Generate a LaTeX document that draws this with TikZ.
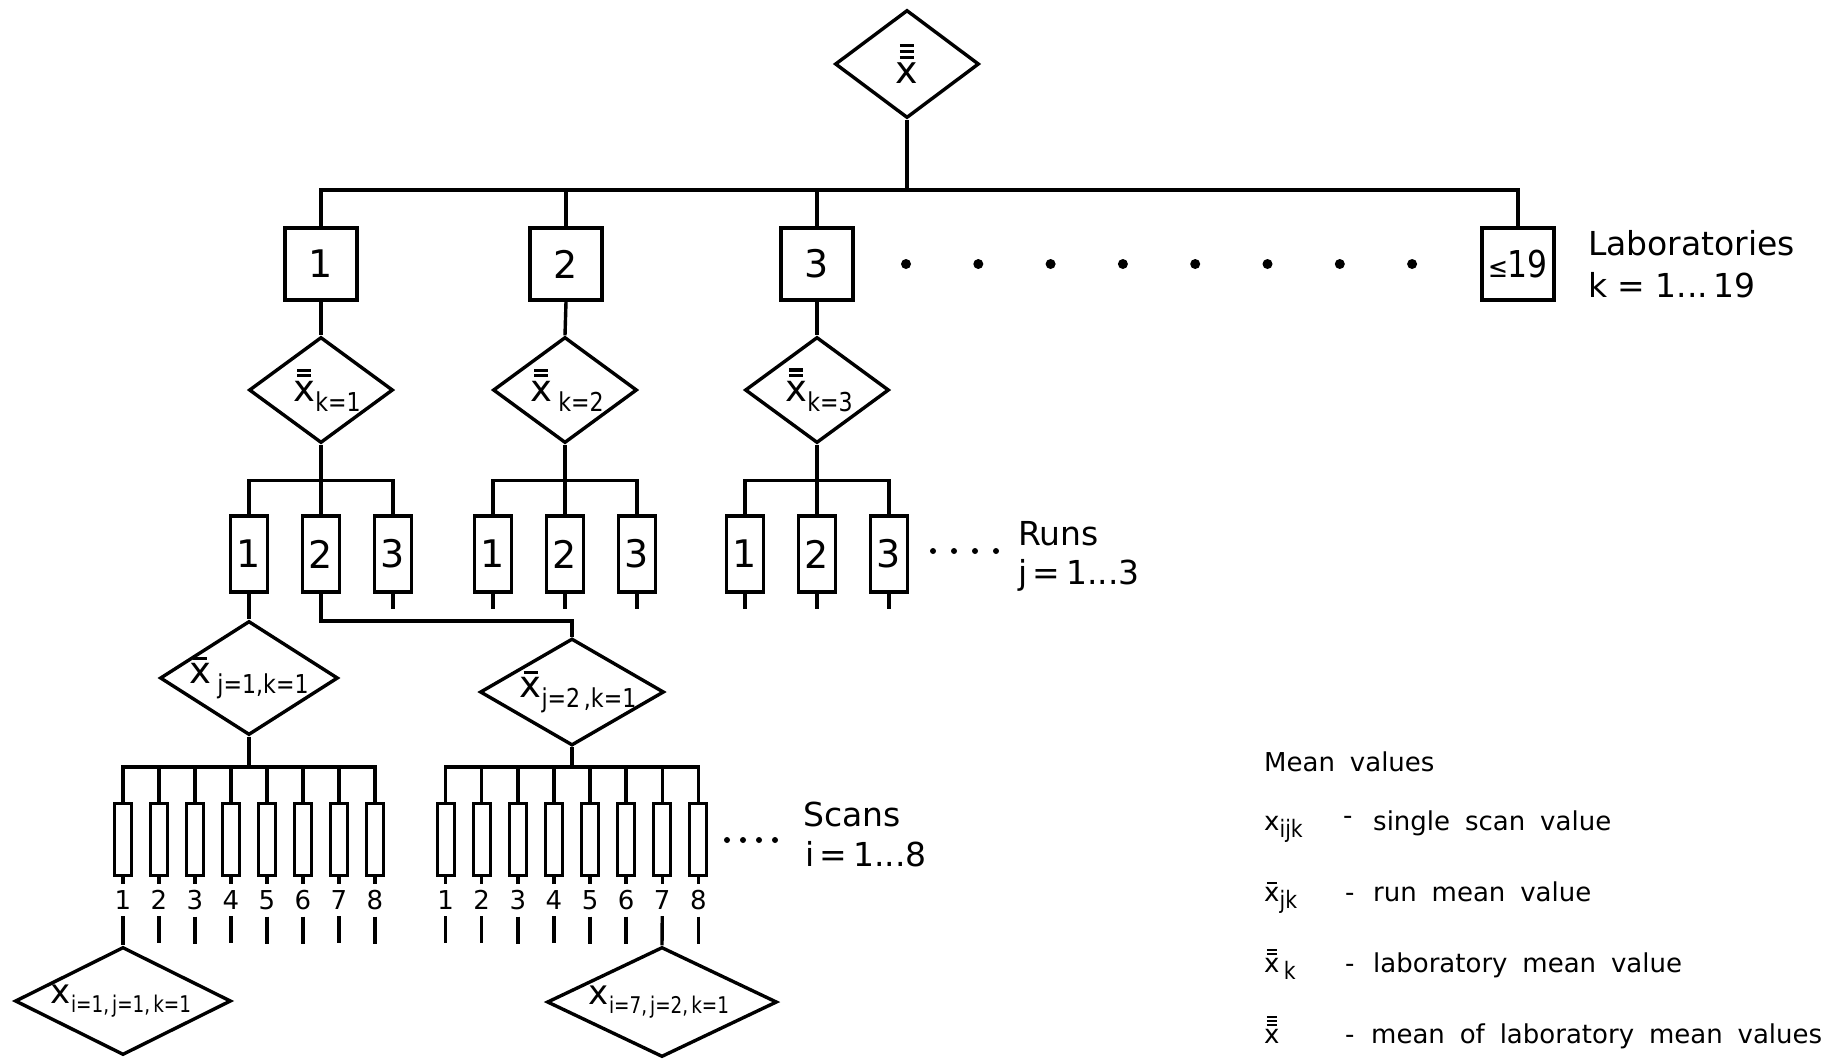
\documentclass[tikz,border=0pt]{standalone}
\usepackage{fontspec}
\setmainfont{DejaVu Sans}
\newfontfamily\legfont[WordSpace=1.8]{DejaVu Sans}
\usetikzlibrary{shapes.geometric}

\newcommand\fs[1]{\fontsize{#1}{#1}\selectfont}
% bar over a mean symbol
\newcommand\mbar{\rule{0.38em}{0.085em}}
% x with one, two or three bars
\newcommand\xI{\leavevmode\vbox{\offinterlineskip\halign{\hfil##\hfil\cr\mbar\cr\noalign{\kern0.1em}x\cr}}}
\newcommand\xII{\leavevmode\vbox{\offinterlineskip\halign{\hfil##\hfil\cr\mbar\cr\noalign{\kern0.07em}\mbar\cr\noalign{\kern0.1em}x\cr}}}
\newcommand\xIII{\leavevmode\vbox{\offinterlineskip\halign{\hfil##\hfil\cr\mbar\cr\noalign{\kern0.07em}\mbar\cr\noalign{\kern0.07em}\mbar\cr\noalign{\kern0.1em}x\cr}}}
% lowered, narrowed index
\newcommand\lsub[2][26]{\raisebox{-0.5ex}{\scalebox{0.85}[1]{\fs{#1}#2}}}
\newcommand\nsub[1]{\raisebox{-0.45ex}{\scalebox{0.8}[1]{\fs{23}#1}}}

\begin{document}
\begin{tikzpicture}[x=1pt,y=-1pt,
  ln/.style={line width=3.4pt},
  mdia/.style={draw, diamond, line width=3.4pt, inner sep=0pt},
  labbox/.style={draw, line width=3.4pt, minimum width=72pt, minimum height=72pt, inner sep=0pt, font=\fs{38}},
  runbox/.style={draw, line width=3.4pt, minimum width=37pt, minimum height=76pt, inner sep=0pt, font=\fs{38}},
  scanbox/.style={draw, line width=3pt, minimum width=17pt, minimum height=72pt, inner sep=0pt},
  bigdot/.style={circle, fill, inner sep=0pt, minimum size=10pt},
  smalldot/.style={circle, fill, inner sep=0pt, minimum size=6pt},
  txt/.style={inner sep=0pt},
  num/.style={anchor=base, inner sep=0pt, font=\fs{26}},
  lbl/.style={anchor=base west, inner sep=0pt, font=\fs{33}},
  leg/.style={anchor=base west, inner sep=0pt, font={\legfont\fs{26}}}]

\fill[white] (0,0) rectangle (1838,1061);
\useasboundingbox (0,0) rectangle (1838,1061);

% ---- grand mean ----
\node[mdia, minimum width=144pt, minimum height=108pt] (T) at (907,64) {};
\node[txt] (Tt) at (T.center) {\fs{38}\xIII};
\coordinate (labbus) at (907,190);

% ---- laboratories ----
\node[labbox] (L1) at (321,264) {1};
\node[labbox] (L2) at (566,264) {2};
\node[labbox] (L3) at (817,264) {3};
\node[labbox] (L19) at (1518,264) {\scalebox{0.85}[1]{{\fs{28}≤}{\fs{37}19}}};

\draw[ln] (T.south) -- (labbus);
\draw[ln] (L1.north) |- (labbus) -| (L19.north);
\draw[ln] (L2.north) -- (L2.north |- labbus);
\draw[ln] (L3.north) -- (L3.north |- labbus);

\foreach \i in {0,...,7}
  \node[bigdot] (ld\i) at ({906+\i*72.3},264) {};

\node[lbl] (labA) at (1588,255) {Laboratories};
\node[lbl] (labB) at (1588,297) {k = 1...\,19};

% ---- laboratory means and runs ----
\foreach \k/\cx in {1/321,2/565,3/817} {
  \node[mdia, minimum width=144pt, minimum height=106pt] (D\k) at (\cx,390) {};
  \draw[ln] (L\k.south) -- (D\k.north);
  \path (D\k.south) ++(0,36) coordinate (rb\k);
  \draw[ln] (D\k.south) -- (rb\k);
  \foreach \j in {1,2,3}
    \node[runbox] (R\k\j) at ({\cx+(\j-2)*72},554) {\j};
  \draw[ln] (R\k1.north) |- (rb\k) -| (R\k3.north);
  \draw[ln] (R\k2.north) -- (rb\k);
}
\node[txt] (D1t) at ([xshift=6pt]D1.center) {\fs{37}\xII\lsub{k=1}};
\node[txt] (D2t) at ([xshift=2pt]D2.center) {\fs{37}\xII\,\lsub{k=2}};
\node[txt] (D3t) at ([xshift=2pt]D3.center) {\fs{37}\xII\lsub{k=3}};

\foreach \r in {R13,R21,R22,R23,R31,R32,R33}
  \draw[ln] (\r.south) -- ++(0,15);

\foreach \i in {0,...,3}
  \node[smalldot] (rd\i) at ({933+\i*21},551) {};
\node[lbl] (runA) at (1018,545) {Runs};
\node[lbl] (runB) at (1018,584) {j\,=\,1...3};

% ---- run means ----
\node[mdia, minimum width=178pt, minimum height=114pt] (J1) at (249,678) {};
\node[mdia, minimum width=184pt, minimum height=107pt] (J2) at (572,692) {};
\node[txt] (J1t) at (J1.center) {\fs{37}\xI\,\lsub{j=1,k=1}};
\node[txt] (J2t) at ([xshift=6pt]J2.center) {\fs{37}\xI\lsub{j=2\,,k=1}};
\coordinate (turn) at (572,621);
\draw[ln] (R11.south) -- (J1.north);
\draw[ln] (R12.south) |- (turn) -- (J2.north);

% ---- single scans ----
\node[mdia, minimum width=216pt, minimum height=108pt] (B1) at (123,1001) {};
\node[mdia, minimum width=230pt, minimum height=110pt] (B2) at (662,1002) {};
\node[txt] (B1t) at ([xshift=-2pt]B1.center) {\fs{34}x\nsub{i=1,\,j=1,\,k=1}};
\node[txt] (B2t) at ([xshift=-3pt]B2.center) {\fs{34}x\nsub{i=7,\,j=2,\,k=1}};

\coordinate (sb1) at (249,767);
\coordinate (sb2) at (572,767);
\draw[ln] (J1.south) -- (sb1);
\draw[ln] (J2.south) -- (sb2);

\foreach \n in {1,...,8} {
  \node[scanbox] (sa\n) at ({249+(\n-4.5)*36},839) {};
  \node[num] (na\n) at ({249+(\n-4.5)*36},909) {\n};
  \draw[ln] (sa\n.south) -- ++(0,7);
  \node[scanbox] (sc\n) at ({572+(\n-4.5)*36.1},839) {};
  \node[num] (nc\n) at ({572+(\n-4.5)*36.1},909) {\n};
  \draw[ln] (sc\n.south) -- ++(0,7);
}
\draw[ln] (sa1.north) |- (sb1) -| (sa8.north);
\draw[ln] (sc1.north) |- (sb2) -| (sc8.north);
\foreach \n in {2,...,7} {
  \draw[ln] (sa\n.north) -- (sa\n.north |- sb1);
  \draw[ln] (sc\n.north) -- (sc\n.north |- sb2);
}
\foreach \n in {2,...,8}
  \draw[ln] ([yshift=-7pt]na\n.south) -- ++(0,27);
\foreach \n in {1,...,6,8}
  \draw[ln] ([yshift=-7pt]nc\n.south) -- ++(0,27);
\draw[ln] ([yshift=-7pt]na1.south) -- (B1.north);
\draw[ln] ([yshift=-7pt]nc7.south) -- (B2.north);

\foreach \i in {0,...,3}
  \node[smalldot] (sd\i) at ({727+\i*16},840) {};
\node[lbl] (scA) at (803,826) {Scans};
\node[lbl] (scB) at (805,866) {i\,=\,1...8};

% ---- legend ----
\node[leg] (mv) at (1264,771) {Mean values};
\node[leg] (s1) at (1264,830) {x\lsub[24]{ijk}};
\node[leg] (s2) at (1264,901) {\xI\lsub[24]{jk}};
\node[leg] (s3) at (1264,972) {\xII\,\lsub[24]{k}};
\node[leg] (s4) at (1264,1043) {\xIII};
\node[leg] (h1) at (1343,824) {-};
\node[leg] (h2) at (1345,901) {-};
\node[leg] (h3) at (1345,972) {-};
\node[leg] (h4) at (1345,1043) {-};
\node[leg] (t1) at (1373,830) {single scan value};
\node[leg] (t2) at (1373,901) {run mean value};
\node[leg] (t3) at (1373,972) {laboratory mean value};
\node[leg] (t4) at (1371,1043) {mean of laboratory mean values};
\end{tikzpicture}
\end{document}
